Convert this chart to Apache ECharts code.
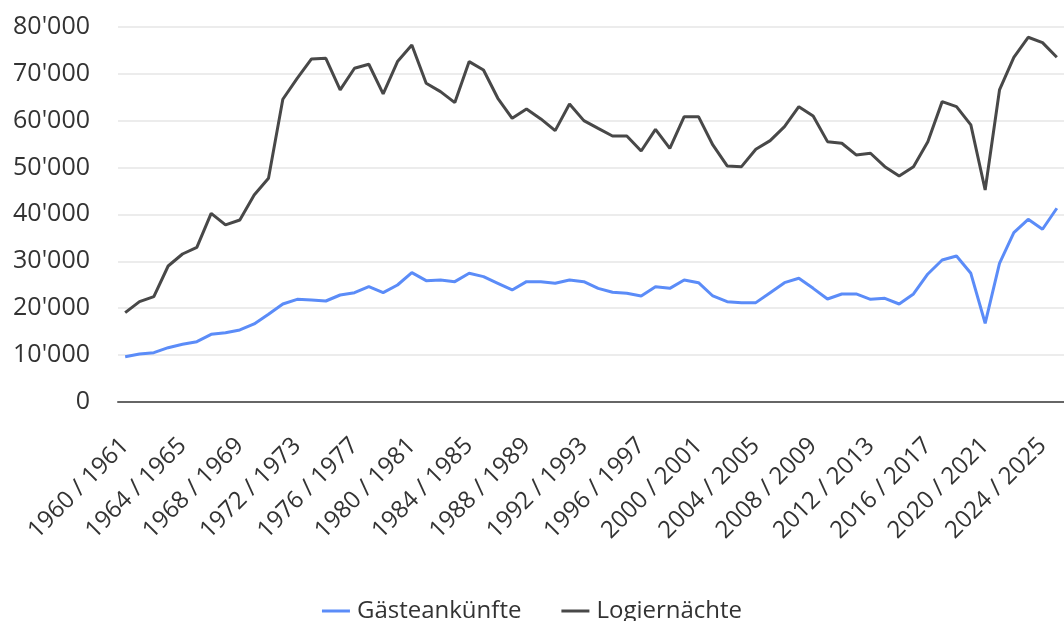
<!DOCTYPE html>
<html>
<head>
<meta charset="utf-8">
<script src="https://cdn.jsdelivr.net/npm/echarts@6/dist/echarts.min.js"></script>
<style>
  html, body { margin: 0; padding: 0; background: #fff; overflow: hidden; }
  #tourismChart { width: 1064px; height: 621px; }
</style>
</head>
<body>
<div id="tourismChart"></div>
<script>
// seasons 1960/1961 .. 2025/2026
var seasons = [];
for (var y = 1960; y <= 2025; y++) {
  seasons.push(y + ' / ' + (y + 1));
}

var arrivals = [
  9660, 10230, 10520, 11580, 12300, 12860, 14430, 14780, 15350, 16630,
  18690, 20890, 21890, 21750, 21530, 22810, 23310, 24590, 23310, 24940,
  27570, 25870, 26010, 25650, 27430, 26720, 25300, 23880, 25650, 25650,
  25300, 26010, 25650, 24230, 23380, 23170, 22600, 24590, 24230, 26010,
  25440, 22600, 21390, 21180, 21180, 23310, 25440, 26370, 24230, 21960,
  23030, 23030, 21890, 22100, 20890, 23030, 27290, 30270, 31130, 27430,
  16780, 29570, 36100, 38940, 36820, 41300
];

var nights = [
  19040, 21390, 22460, 28990, 31550, 32970, 40220, 37740, 38800, 44130,
  47680, 64530, 69000, 73130, 73270, 66520, 71140, 72000, 65670, 72560,
  76110, 67940, 66160, 63820, 72560, 70780, 64740, 60480, 62470, 60340,
  57850, 63530, 59980, 58340, 56710, 56710, 53510, 58130, 54080, 60830,
  60830, 54790, 50320, 50170, 53870, 55720, 58700, 62960, 60980, 55500,
  55150, 52660, 53020, 50170, 48180, 50170, 55500, 64030, 62960, 59060,
  45200, 66520, 73480, 77750, 76610, 73480
];

var seriesNames = ['Gästeankünfte', 'Logiernächte'];
var yTicks = [0, 80000, 10000]; // min, max, step

var fontFamily = '"Open Sans", Lato, sans-serif';

function swissFormat(v) {
  return String(v).replace(/\B(?=(\d{3})+(?!\d))/g, "'");
}

var chart = echarts.init(document.getElementById('tourismChart'), null, {
  renderer: 'canvas'
});

chart.setOption({
  animation: false,
  textStyle: { fontFamily: fontFamily },
  legend: {
    top: 594,
    left: 'center',
    icon: 'rect',
    itemWidth: 28,
    itemHeight: 3,
    itemGap: 40,
    textStyle: { fontSize: 24, color: '#333', fontFamily: fontFamily, padding: [0, 0, 0, 2] },
    data: seriesNames
  },
  grid: {
    left: 118,
    right: -6,
    top: 26.7,
    bottom: 219
  },
  xAxis: {
    type: 'category',
    data: seasons,
    boundaryGap: true,
    axisLine: { lineStyle: { color: '#666', width: 2 } },
    axisTick: { show: false },
    axisLabel: {
      interval: 3,
      rotate: 45,
      margin: 40,
      fontSize: 24,
      color: '#333',
      fontFamily: fontFamily
    }
  },
  yAxis: {
    type: 'value',
    min: yTicks[0],
    max: yTicks[1],
    interval: yTicks[2],
    axisLine: { show: false },
    axisTick: { show: false },
    splitLine: { lineStyle: { color: '#e6e6e6', width: 1.5 } },
    axisLabel: {
      margin: 28,
      fontSize: 25,
      color: '#333',
      fontFamily: fontFamily,
      formatter: swissFormat
    }
  },
  series: [
    {
      name: seriesNames[0],
      type: 'line',
      data: arrivals,
      symbol: 'none',
      lineStyle: { color: '#5b8cf8', width: 3 },
      itemStyle: { color: '#5b8cf8' }
    },
    {
      name: seriesNames[1],
      type: 'line',
      data: nights,
      symbol: 'none',
      lineStyle: { color: '#484848', width: 3 },
      itemStyle: { color: '#484848' }
    }
  ]
});

window.addEventListener('resize', function () {
  chart.resize();
});
</script>
</body>
</html>
